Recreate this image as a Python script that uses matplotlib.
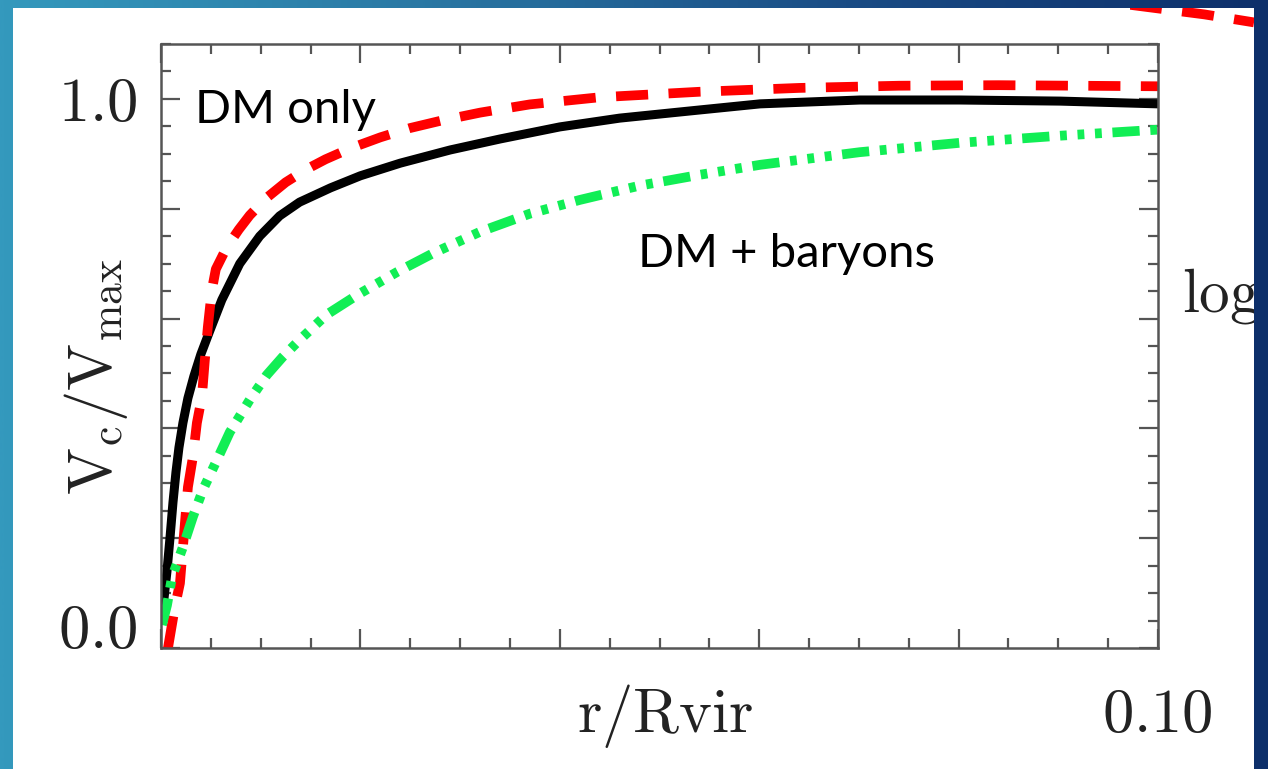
import numpy as np
import matplotlib
matplotlib.use("Agg")
import matplotlib.pyplot as plt
from matplotlib.colors import LinearSegmentedColormap
from matplotlib.patches import Rectangle
from matplotlib.ticker import MultipleLocator

# Rotation curves, V_c / V_max against r / R_vir
r_total = [0.0001, 0.0003, 0.0006, 0.0009, 0.0012, 0.0015, 0.0018, 0.0022, 0.0027,
           0.0033, 0.0040, 0.0049, 0.0061, 0.0079, 0.0099, 0.0119, 0.0139, 0.0170,
           0.0200, 0.0240, 0.0290, 0.0340, 0.0400, 0.0460, 0.0541, 0.0601, 0.0701,
           0.0801, 0.0902, 0.1000]
v_total = [0.060, 0.090, 0.140, 0.200, 0.265, 0.320, 0.365, 0.410, 0.455,
           0.495, 0.535, 0.578, 0.634, 0.700, 0.750, 0.787, 0.812, 0.838,
           0.860, 0.883, 0.907, 0.927, 0.949, 0.965, 0.980, 0.991, 0.998,
           0.998, 0.996, 0.991]

r_dm = [0.0007, 0.0014, 0.0019, 0.0022, 0.0027, 0.0032, 0.0036, 0.0041, 0.0044,
        0.0047, 0.0051, 0.0055, 0.0066, 0.0078, 0.0089, 0.0106, 0.0125, 0.0145,
        0.0165, 0.0190, 0.0220, 0.0250, 0.0280, 0.0320, 0.0370, 0.0440, 0.0540,
        0.0640, 0.0740, 0.0840, 0.1000]
v_dm = [0.000, 0.075, 0.118, 0.184, 0.293, 0.348, 0.410, 0.457, 0.525,
        0.585, 0.652, 0.690, 0.730, 0.762, 0.788, 0.820, 0.848, 0.871,
        0.890, 0.910, 0.930, 0.947, 0.960, 0.975, 0.990, 1.003, 1.013,
        1.020, 1.024, 1.025, 1.023]

r_bar = [0.0001, 0.0006, 0.0011, 0.0022, 0.0032, 0.0042, 0.0056, 0.0069, 0.0089,
         0.0106, 0.0122, 0.0139, 0.0166, 0.0197, 0.0237, 0.0273, 0.0320, 0.0370,
         0.0420, 0.0480, 0.0541, 0.0601, 0.0701, 0.0801, 0.0902, 0.1000]
v_bar = [0.042, 0.078, 0.129, 0.184, 0.239, 0.288, 0.342, 0.393, 0.452,
         0.497, 0.530, 0.561, 0.607, 0.643, 0.685, 0.719, 0.758, 0.791,
         0.816, 0.842, 0.862, 0.880, 0.903, 0.920, 0.933, 0.944]

# Piece of the neighbouring panel's dashed curve
side_x = [0.0, 0.3, 0.6, 1.0]
side_y = [1.10, 0.95, 0.80, 0.55]

W, H = 1268, 769
plt.rcParams["mathtext.fontset"] = "cm"

fig = plt.figure(figsize=(W / 100, H / 100), dpi=100)

# Slide background
bg = fig.add_axes([0, 0, 1, 1], zorder=0)
bg.set_axis_off()
cmap = LinearSegmentedColormap.from_list("slide", ["#3499bd", "#2a78a4", "#1a4c85", "#0d2f6a"])
grad = np.linspace(0, 1, 512).reshape(1, -1)
bg.imshow(grad, aspect="auto", cmap=cmap, extent=(0, 1, 0, 1))
bg.set_xlim(0, 1)
bg.set_ylim(0, 1)
bg.add_patch(Rectangle((13 / W, 0), (1254 - 13) / W, (H - 8) / H,
                       facecolor="white", edgecolor="none"))

# Clipping frame for text spilling over the white panel
panel = fig.add_axes([13 / W, 0, (1254 - 13) / W, (H - 8) / H], zorder=1)
panel.set_xlim(0, 1)
panel.set_ylim(0, 1)
panel.set_xticks([])
panel.set_yticks([])
panel.patch.set_visible(False)
for s in panel.spines.values():
    s.set_visible(False)
panel.annotate(r"$\mathrm{log}$", xy=(1182 / W, (H - 312) / H), xycoords="figure fraction",
               fontsize=44, ha="left", va="baseline", color="#222222",
               annotation_clip=False, clip_on=True)

side = fig.add_axes([1130 / W, (H - 40) / H, 124 / W, 32 / H], zorder=2)
side.set_xlim(0, 1)
side.set_ylim(0, 1)
side.set_axis_off()
side.plot(side_x, side_y, color="#ff0000", lw=7, ls=(0, (3.3, 2.1)),
          dash_capstyle="butt", clip_on=True)

# Main plot
ax = fig.add_axes([161 / W, (H - 648) / H, 997 / W, 604 / H], zorder=3)
ax.set_xlim(0, 0.10)
ax.set_ylim(0, 1.1)
ax.plot(r_total, v_total, color="black", lw=6.5, solid_capstyle="butt",
        solid_joinstyle="round")
ax.plot(r_dm, v_dm, color="#ff0000", lw=7, ls=(0, (3.3, 2.1)), dash_capstyle="butt")
ax.plot(r_bar, v_bar, color="#11ee55", lw=7,
        ls=(0, (2.8, 1.1, 0.7, 1.1, 0.7, 1.1, 0.7, 1.1)), dash_capstyle="butt")

ax.xaxis.set_major_locator(MultipleLocator(0.02))
ax.xaxis.set_minor_locator(MultipleLocator(0.005))
ax.yaxis.set_major_locator(MultipleLocator(0.2))
ax.yaxis.set_minor_locator(MultipleLocator(0.05))
ax.tick_params(which="both", direction="in", top=True, right=True,
               labelbottom=False, labelleft=False, color="#555555", width=1.6)
ax.tick_params(which="major", length=14)
ax.tick_params(which="minor", length=7)
for s in ax.spines.values():
    s.set_color("#555555")
    s.set_linewidth(1.8)

tick_kw = dict(textcoords="offset pixels", fontsize=45, color="#222222", annotation_clip=False)
ax.annotate(r"$\mathrm{1.0}$", xy=(0, 1.0), xycoords=("axes fraction", "data"),
            xytext=(-24, -5), ha="right", va="center", **tick_kw)
ax.annotate(r"$\mathrm{0.0}$", xy=(0, 0.0), xycoords=("axes fraction", "data"),
            xytext=(-24, 0), ha="right", va="baseline", **tick_kw)
ax.annotate(r"$\mathrm{0.10}$", xy=(0.10, 0), xycoords=("data", "axes fraction"),
            xytext=(-1, -84), ha="center", va="baseline", **tick_kw)
ax.annotate(r"$\mathrm{r/Rvir}$", xy=(0.5, 0), xycoords="axes fraction",
            xytext=(6, -84), ha="center", va="baseline", **tick_kw)
ax.annotate(r"$\mathrm{V_c/V_{max}}$", xy=(0, 0.5), xycoords="axes fraction",
            xytext=(-31, -30), ha="right", va="center", rotation=90, **tick_kw)

fig.text(195 / W, (H - 123) / H, "DM only", fontsize=34, family="Lato",
         weight="normal", va="baseline", ha="left", color="black", zorder=10)
fig.text(638 / W, (H - 267) / H, "DM + baryons", fontsize=34, family="Lato",
         weight="normal", va="baseline", ha="left", color="black", zorder=10)

fig.savefig("out.png", dpi=100)
